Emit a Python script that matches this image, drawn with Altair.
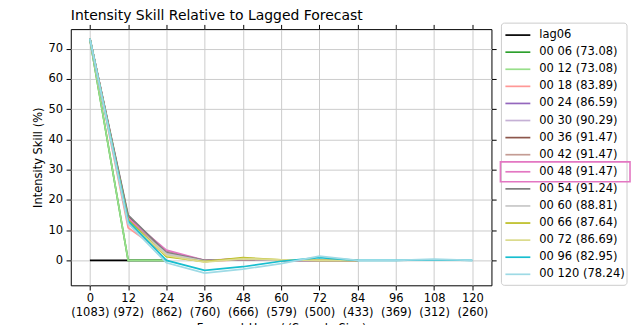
import altair as alt
import pandas as pd

# ---------------- data ----------------
hours = [0, 12, 24, 36, 48, 60, 72, 84, 96, 108, 120]
sample_sizes = [1083, 972, 862, 760, 666, 579, 500, 433, 369, 312, 260]

series_names = ["lag06", "00 06", "00 12", "00 18", "00 24", "00 30", "00 36",
                "00 42", "00 48", "00 54", "00 60", "00 66", "00 72", "00 96", "00 120"]
legend_scores = [None, 73.08, 73.08, 83.89, 86.59, 90.29, 91.47,
                 91.47, 91.47, 91.24, 88.81, 87.64, 86.69, 82.95, 78.24]
series_colors = ["#000000", "#2ca02c", "#98df8a", "#ff9896", "#9467bd", "#c5b0d5", "#8c564b",
                 "#c49c94", "#e377c2", "#7f7f7f", "#c7c7c7", "#bcbd22", "#dbdb8d", "#17becf", "#9edae5"]
highlighted = "00 48"

# skill values per series, one per forecast hour (series stop where the list stops)
lag06 = [0.0, 0.0, 0.0]
s_00_06 = [73.1, 0.0, 0.0]
s_00_12 = [73.1, 0.0, 0.0]
s_00_18 = [73.2, 10.8, 1.8, -0.3, 0.2, 0.0, 0.0, 0.0]
s_00_24 = [73.3, 13.2, 2.6, -0.2, 0.4, 0.0, 0.0, 0.0]
s_00_30 = [73.3, 12.0, 2.0, -0.3, 0.4, 0.0, 0.0, 0.0]
s_00_36 = [73.4, 14.5, 2.9, -0.1, 0.4, 0.0, 0.0, 0.0]
s_00_42 = [73.4, 13.8, 2.8, -0.1, 0.4, 0.0, 0.0, 0.0]
s_00_48 = [73.4, 14.0, 3.4, 0.0, 0.5, 0.0, 0.0, 0.0]
s_00_54 = [73.4, 15.0, 2.6, 0.0, 0.4, 0.0, 0.0, 0.0]
s_00_60 = [73.4, 13.0, 2.2, -0.2, 0.5, 0.0, 0.0, 0.0]
s_00_66 = [73.3, 13.4, 1.2, -0.4, 0.9, 0.2, 0.0, 0.0]
s_00_72 = [73.3, 12.6, 1.6, -0.6, 0.6, 0.2, 0.0, 0.0]
s_00_96 = [73.3, 13.0, 0.0, -3.3, -2.1, -0.3, 0.9, 0.0, 0.0, 0.2, 0.0]
s_00_120 = [73.4, 12.2, -0.8, -4.2, -2.9, -1.1, 1.4, 0.0, 0.0, 0.4, 0.0]

series_values = [lag06, s_00_06, s_00_12, s_00_18, s_00_24, s_00_30, s_00_36,
                 s_00_42, s_00_48, s_00_54, s_00_60, s_00_66, s_00_72, s_00_96, s_00_120]

FONT = "DejaVu Sans"

rows = []
for name, vals in zip(series_names, series_values):
    for h, v in zip(hours, vals):
        rows.append({"series": name, "hour": h, "value": v})
df = pd.DataFrame(rows)

legend_labels = [n if s is None else f"{n} ({s:.2f})" for n, s in zip(series_names, legend_scores)]
leg_df = pd.DataFrame({"series": series_names, "idx": list(range(len(series_names))),
                       "label": legend_labels})

# ---------------- main plot ----------------
xs = alt.Scale(domain=[-6, 126], nice=False, zero=False)
ys = alt.Scale(domain=[-8.25, 76.5], nice=False, zero=False)
color_scale = alt.Scale(domain=series_names, range=series_colors)

label_expr = ("[datum.label, '(' + [" + ",".join(str(n) for n in sample_sizes) + "][indexof(["
              + ",".join(str(h) for h in hours) + "], datum.value)] + ')']")

lines = alt.Chart(df).mark_line(strokeWidth=1.7).encode(
    x=alt.X("hour:Q", scale=xs, axis=alt.Axis(
        values=hours, labelExpr=label_expr, labelLineHeight=14, labelPadding=3,
        title="Forecast Hour / (Sample Size)", titlePadding=4.5, grid=True,
        labelFlush=False, labelOverlap=False)),
    y=alt.Y("value:Q", scale=ys, axis=alt.Axis(
        values=[0, 10, 20, 30, 40, 50, 60, 70], title="Intensity Skill (%)",
        titlePadding=4.5, labelPadding=3.5, grid=True)),
    color=alt.Color("series:N", scale=color_scale, legend=None),
)

frame_ticks = alt.Chart(df).mark_point(opacity=0).encode(
    x=alt.X("hour:Q", scale=xs, axis=alt.Axis(orient="top", values=hours, labels=False,
                                               grid=False, title=None)),
    y=alt.Y("value:Q", scale=ys, axis=alt.Axis(orient="right", values=[0, 10, 20, 30, 40, 50, 60, 70],
                                                labels=False, grid=False, title=None)),
)

plot = alt.layer(lines, frame_ticks).resolve_axis(x="independent", y="independent").properties(
    width=422, height=257,
    title=alt.Title("Intensity Skill Relative to Lagged Forecast", anchor="start", frame="group",
                    font=FONT, fontSize=14, fontWeight="normal", color="black",
                    baseline="alphabetic", offset=-10.1),
)

# ---------------- legend panel ----------------
ys_leg = alt.Scale(domain=[-0.35, 14.644], reverse=True, nice=False, zero=False)

box = alt.Chart(pd.DataFrame({"k": [0]})).mark_rect(
    fill="white", stroke="#cccccc", strokeWidth=1, cornerRadius=3).encode(
    x=alt.value(0), x2=alt.value(126), y=alt.value(-6), y2=alt.value(257))

swatches = alt.Chart(leg_df).mark_rule(strokeWidth=1.7).encode(
    x=alt.value(4), x2=alt.value(29),
    y=alt.Y("idx:Q", scale=ys_leg, axis=None),
    color=alt.Color("series:N", scale=color_scale, legend=None),
)

texts = alt.Chart(leg_df).mark_text(align="left", baseline="middle", font=FONT,
                                     fontSize=11.5, color="black").encode(
    x=alt.value(38), y=alt.Y("idx:Q", scale=ys_leg, axis=None), text="label:N")

hl = alt.Chart(leg_df).transform_filter(alt.datum.series == highlighted).transform_calculate(
    y0="datum.idx - 0.58", y1="datum.idx + 0.58").mark_rect(
    fillOpacity=0, stroke="#e377c2", strokeWidth=1.6).encode(
    x=alt.value(-1), x2=alt.value(129),
    y=alt.Y("y0:Q", scale=ys_leg, axis=None), y2="y1:Q")

legend_panel = alt.layer(box, swatches, texts, hl).properties(
    width=126, height=257, view=alt.ViewBackground(strokeOpacity=0))

chart = alt.hconcat(plot, legend_panel, spacing=2).properties(
    padding={"left": 32, "right": 4, "top": 7.7, "bottom": -10.5},
    background="white",
).configure_view(stroke="black", strokeWidth=1).configure_axis(
    labelFont=FONT, titleFont=FONT, labelFontSize=11.5, titleFontSize=11.5,
    titleFontWeight="normal", labelColor="black", titleColor="black",
    tickColor="black", tickSize=4.7, tickWidth=1, domain=False,
    gridColor="#cccccc", gridWidth=1,
)

chart.save("out.html", embed_options={"renderer": "svg", "actions": False})
